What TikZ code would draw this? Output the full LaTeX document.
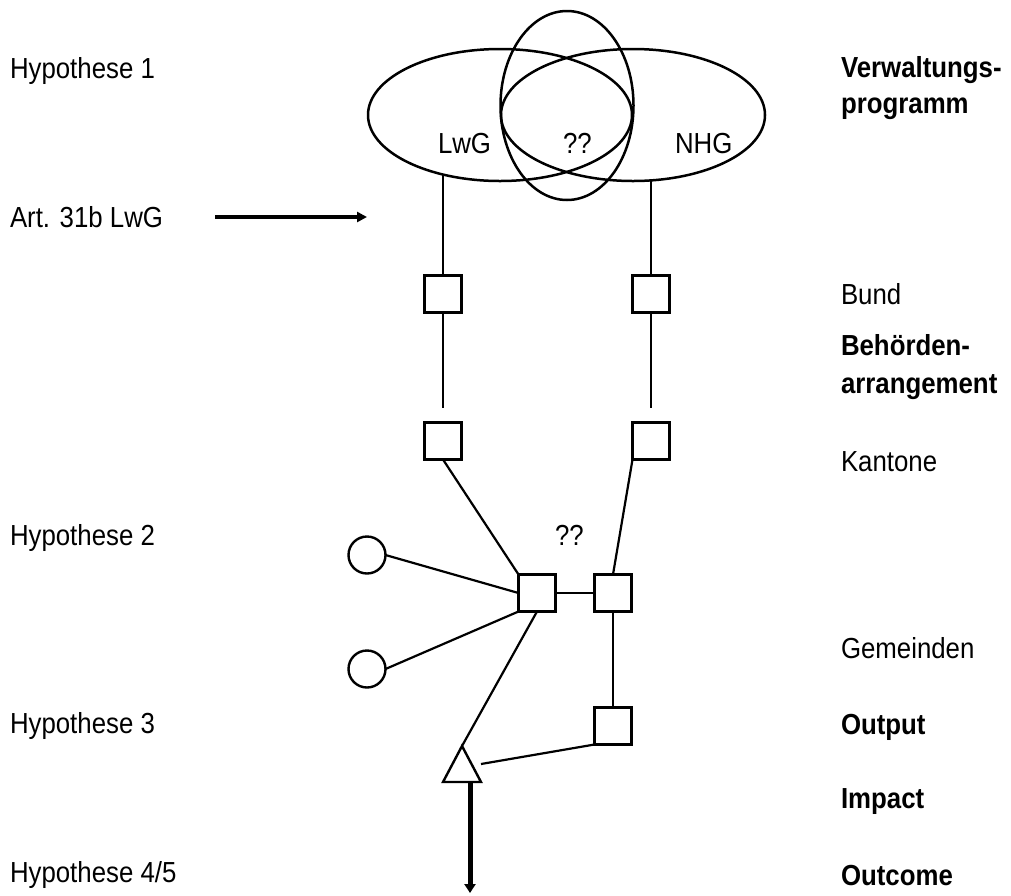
\documentclass[tikz,border=0pt]{standalone}
\usepackage{fontspec}
\setmainfont[FakeStretch=0.89]{Liberation Sans}
\usetikzlibrary{shapes.geometric,arrows.meta,calc}
\begin{document}
\begin{tikzpicture}[x=1pt,y=-1pt,
  every node/.style={inner sep=0pt,outer sep=0pt},
  lbl/.style={anchor=base west,font=\fontsize{29}{36}\selectfont},
  blbl/.style={anchor=base west,font=\fontsize{29}{36}\selectfont\bfseries},
  ell/.style={draw,line width=2.5pt,ellipse},
  sq/.style={draw,line width=2.4pt,rectangle,minimum size=37pt},
  circ/.style={draw,line width=2.4pt,circle,minimum size=37pt},
  conn/.style={line width=2.2pt},
  bigarrow/.style={line width=4pt,-{Triangle[length=10pt,width=10pt]}}
]
\useasboundingbox (0,0) rectangle (1011,895);

% ellipses
\node[ell,minimum width=264pt,minimum height=132pt] (lwgE) at (500,115) {};
\node[ell,minimum width=264pt,minimum height=132pt] (nhgE) at (633,115) {};
\node[ell,minimum width=133pt,minimum height=189pt] (midE) at (567,105.5) {};

\node[lbl] (lwg) at (438,153) {LwG};
\node[lbl] (qq1) at (563,153) {??};
\node[lbl] (nhg) at (675,153) {NHG};

% squares
\node[sq] (b1) at (443,294) {};
\node[sq] (b2) at (651,294) {};
\node[sq] (k1) at (443,441) {};
\node[sq] (k2) at (651,441) {};
\node[sq] (g1) at (537,593) {};
\node[sq] (g2) at (613,593) {};
\node[sq] (o1) at (613,726) {};

% circles
\node[circ] (c1) at (367,555) {};
\node[circ] (c2) at (367,669) {};

% triangle
\coordinate (tA) at (462,746);
\coordinate (tR) at (481,764);
\coordinate (tB) at (470,782);
\draw[line width=2.4pt,line join=miter] (tA) -- (481,782) -- (443,782) -- cycle;

% free ends
\coordinate (e1) at (443,408);
\coordinate (e2) at (651,408);
\coordinate (arrS) at (215,217);
\coordinate (arrE) at (367,217);
\coordinate (outE) at (470,893);

% connectors
\draw[conn] (b1.north) -- (b1.north |- lwgE.226.2);
\draw[conn] (b2.north) -- (b2.north |- nhgE.285.4);
\draw[conn] (b1.south) -- (e1);
\draw[conn] (b2.south) -- (e2);
\draw[conn] (k1.south) -- (g1.north west);
\draw[conn] (k2.south west) -- (g2.north);
\draw[conn] (g1.east) -- (g2.west);
\draw[conn] (c1.east) -- (g1.west);
\draw[conn] (c2.east) -- (g1.south west);
\draw[conn] (g1.south) -- (tA);
\draw[conn] (g2.south) -- (o1.north);
\draw[conn] (o1.south west) -- (tR);
\draw[bigarrow] (arrS) -- (arrE);
\draw[line width=5pt,-{Triangle[length=9pt,width=11pt]}] (tB) -- (outE);

\node[lbl] (qq2) at (555,545) {??};

% left labels
\node[lbl] (h1) at (10,78) {Hypothese 1};
\node[lbl] (art) at (10,227) {Art. 31b LwG};
\node[lbl] (h2) at (10,545) {Hypothese 2};
\node[lbl] (h3) at (10,733) {Hypothese 3};
\node[lbl] (h45) at (10,882) {Hypothese 4/5};

% right labels
\node[blbl] (vw1) at (841,77) {Verwaltungs-};
\node[blbl] (vw2) at (841,113) {programm};
\node[lbl] (bund) at (841,304) {Bund};
\node[blbl] (ba1) at (841,355) {Behörden-};
\node[blbl] (ba2) at (841,393) {arrangement};
\node[lbl] (kant) at (841,471) {Kantone};
\node[lbl] (gem) at (841,658) {Gemeinden};
\node[blbl] (outp) at (841,734) {Output};
\node[blbl] (imp) at (841,808) {Impact};
\node[blbl] (outc) at (841,885) {Outcome};
\end{tikzpicture}
\end{document}
